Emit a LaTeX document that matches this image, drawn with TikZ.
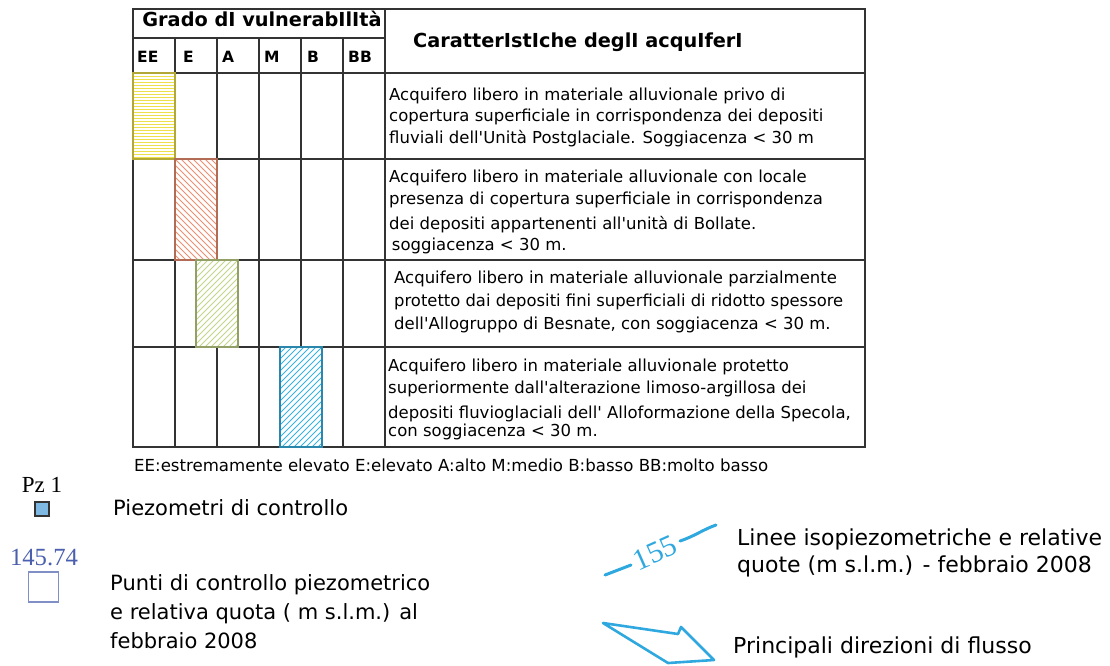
\documentclass[tikz,border=0pt]{standalone}
\usepackage{fontspec}
\setmainfont{DejaVu Sans}[Ligatures=TeXOff]
\newfontfamily\numfont{Liberation Serif}
\usepackage{tikz}
\usetikzlibrary{calc}
\definecolor{tabgray}{HTML}{333333}
\definecolor{hatchyellow}{HTML}{EEE04A}
\definecolor{hatchred}{HTML}{EE8E70}
\definecolor{hatchgreen}{HTML}{C2D68A}
\definecolor{hatchblue}{HTML}{38B2E4}
\definecolor{flowblue}{HTML}{2FA8DF}
\definecolor{quotablue}{HTML}{4A5FAE}
\definecolor{pzblue}{HTML}{7DB9E3}
% hatched class box: corners, colour, line offset, line direction, spacing
\newcommand{\hatchbox}[8]{\fill[white] (#1,#2) rectangle (#3,#4);
  \begin{scope} \clip (#1,#2) rectangle (#3,#4);
  \foreach \n [evaluate=\n as \k using \n*#8-150] in {0,...,100}
    \draw[#5, line width=0.9pt] ($(#1,#2)+\k*(#6)-(#7)$) -- ($(#1,#2)+\k*(#6)+(#7)$);
  \end{scope}
  \draw[#5!75!black, line width=1.2pt] (#1,#2) rectangle (#3,#4);}

\begin{document}
\begin{tikzpicture}[x=1pt,y=-1pt,
    tabline/.style={draw=tabgray, line width=1.5pt},
    headtext/.style={font=\fontsize{19.3}{23}\selectfont\bfseries, inner sep=0pt},
    gradetext/.style={font=\fontsize{15.5}{18}\selectfont\bfseries, inner sep=0pt, anchor=base west},
    rowtext/.style={font=\fontsize{16.5}{21.6}\selectfont, inner sep=0pt, anchor=north west, align=left},
    legtext/.style={font=\fontsize{21}{29}\selectfont, inner sep=0pt, anchor=north west, align=left},
    isoline/.style={draw=flowblue, line width=3pt, line cap=round}]
    \useasboundingbox (0,0) rectangle (1110,665);
    \newcommand*\colw{42}
    % table grid
    \draw[tabline] (133,9) rectangle (865,447);
    \draw[tabline] (133,38) -- (385,38);
    \draw[tabline] (385,9) -- (385,447);
    \foreach \y in {73,159,260,347} {
    \draw[tabline] (133,\y) -- (865,\y);}
    \foreach \c in {1,...,5} {
    \draw[tabline] ({133+\c*\colw},38) -- ({133+\c*\colw},447);}
    % vulnerability classes
    \hatchbox{133}{73}{175}{159}{hatchyellow}{0,1}{150,0}{3}
    \hatchbox{175}{159}{217}{260}{hatchred}{1,0}{150,150}{6}
    \hatchbox{196}{260}{238}{347}{hatchgreen}{1,0}{150,-150}{6}
    \hatchbox{280}{347}{322}{447}{hatchblue}{1,0}{150,-150}{6}

    \node[headtext, anchor=base] (grado) at (262,26) {Grado dI vulnerabIlItà};
    \node[headtext, anchor=base west] (caratt) at (413,47) {CaratterIstIche deglI acquIferI};
    \node[gradetext] (gEE) at (137,62) {EE};
    \node[gradetext] (gE) at (183,62) {E};
    \node[gradetext] (gA) at (222,62) {A};
    \node[gradetext] (gM) at (264,62) {M};
    \node[gradetext] (gB) at (307,62) {B};
    \node[gradetext] (gBB) at (348,62) {BB};

    \node[rowtext] (acqEE) at (389,87.5) {Acquifero libero in materiale alluvionale privo di\\
      copertura superficiale in corrispondenza dei depositi\\
      fluviali dell'Unità Postglaciale. Soggiacenza < 30 m};
    \node[rowtext] (acqE) at (389,170.2) {Acquifero libero in materiale alluvionale con locale\\
      presenza di copertura superficiale in corrispondenza\\[3.5pt]
      dei depositi appartenenti all'unità di Bollate.\\[-1pt]
      \,soggiacenza < 30 m.};
    \node[rowtext, font=\fontsize{16.5}{23}\selectfont] (acqA) at (394,270.8) {Acquifero libero in materiale alluvionale parzialmente\\
      \resizebox{449pt}{\height}{protetto dai depositi fini superficiali di ridotto spessore}\\
      dell'Allogruppo di Besnate, con soggiacenza < 30 m.};
    \node[rowtext] (acqB) at (388,359.2) {Acquifero libero in materiale alluvionale protetto\\
      superiormente dall'alterazione limoso-argillosa dei\\[3pt]
      depositi fluvioglaciali dell' Alloformazione della Specola,\\[-3pt]
      con soggiacenza < 30 m.};

    \node[font=\fontsize{16.6}{20}\selectfont, inner sep=0pt, anchor=base west] (legenda) at (134,471)
      {EE:estremamente elevato E:elevato A:alto M:medio B:basso BB:molto basso};

    % piezometers
    \node[font=\numfont\fontsize{23}{26}\selectfont, inner sep=0pt, anchor=base] (pzname) at (42,492) {Pz 1};
    \node[draw=black!80, fill=pzblue, line width=1.2pt, minimum size=14pt, inner sep=0pt] (pzmark) at (42,509) {};
    \node[font=\fontsize{21}{29}\selectfont, inner sep=0pt, anchor=base west] (pztext) at (113,515) {Piezometri di controllo};
    \node[font=\numfont\fontsize{24.7}{28}\selectfont, text=quotablue, inner sep=0pt, anchor=base] (quota) at (44,565) {145.74};
    \node[draw=quotablue!70, line width=1.2pt, minimum size=30pt, inner sep=0pt] (quotamark) at (43.5,587) {};
    \node[legtext] (quotatext) at (110,574.5) {Punti di controllo piezometrico\\e relativa quota ( m s.l.m.) al\\febbraio 2008};

    % isopiezometric line
    \coordinate (isoA) at (605,575);
    \coordinate (isoB) at (631,565);
    \coordinate (isoC) at (680,541);
    \coordinate (isoD) at (716,525);
    \draw[isoline] (isoA) -- (isoB);
    \node[font=\numfont\fontsize{30}{32}\selectfont, text=flowblue, rotate=24, inner sep=0pt] (isonum) at (655,553) {155};
    \draw[isoline] (isoC) .. controls (695,536) and (702,530) .. (isoD);
    \node[legtext, font=\fontsize{22}{27}\selectfont] (isotext) at (737,529) {Linee isopiezometriche e relative\\quote (m s.l.m.) - febbraio 2008};

    % flow direction
    \draw[flowblue, line width=2.6pt, line join=round] (603,623) -- (678,634) -- (681,627) -- (714,660) -- (668,663) -- cycle;
    \node[font=\fontsize{22}{27}\selectfont, inner sep=0pt, anchor=base west] (flowtext) at (733,653) {Principali direzioni di flusso};
\end{tikzpicture}
\end{document}
